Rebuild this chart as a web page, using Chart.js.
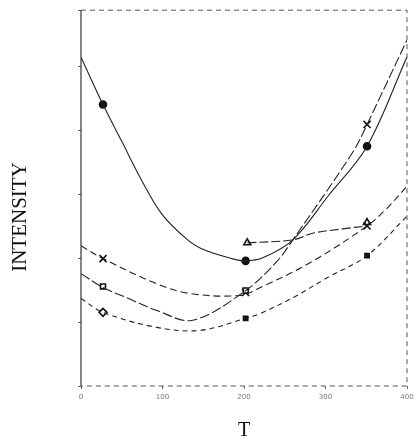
<!DOCTYPE html>
<html>
<head>
<meta charset="utf-8">
<script src="https://cdn.jsdelivr.net/npm/chart.js@4.4.1/dist/chart.umd.min.js"></script>
<style>
  html, body { margin: 0; padding: 0; background: #fff; }
</style>
</head>
<body>
<canvas id="chart" width="419" height="447"></canvas>
<script>
// x ticks
const tTicks = [0, 100, 200, 300, 400];

// curve traced through the filled circles
const circleT = [0, 27, 50, 75, 99, 128, 148, 185, 202, 223, 260, 303, 351, 400];
const circleI = [87.5, 74.9, 65.1, 54.5, 45.8, 39.4, 36.5, 33.9, 33.3, 34.1, 38.9, 50.5, 63.8, 87.6];
const circleMarkT = [27, 202, 351];
const circleMarkI = [74.9, 33.3, 63.8];

// curve through the open squares (steep rise on the right)
const squareT = [0, 27, 56, 93, 137, 202, 241, 260, 334, 351, 400];
const squareI = [29.9, 26.2, 23.5, 20.1, 17.5, 25.4, 33.3, 38.9, 62.4, 69.6, 92.1];
const squareMarkT = [27, 202];
const squareMarkI = [26.5, 25.4];

// curve through the crosses
const crossT = [0, 27, 93, 134, 195, 220, 281, 351, 376, 400];
const crossI = [37.3, 33.9, 27.2, 24.6, 24.1, 26.2, 32.8, 42.6, 47.4, 53.2];
const crossMarkT = [27, 202, 351, 351];
const crossMarkI = [33.9, 24.9, 69.6, 42.6];

// triangles (from T = 200 only)
const triT = [204, 260, 285, 321, 351];
const triI = [38.1, 38.9, 40.7, 41.8, 42.6];
const triMarkT = [204, 351];
const triMarkI = [38.1, 43.5];

// curve through the diamonds
const diaT = [0, 27, 93, 146, 202, 220, 260, 302, 351, 400];
const diaI = [23.3, 19.6, 15.6, 14.8, 18.0, 19.3, 23.5, 28.8, 34.7, 45.2];
const diaMarkT = [27];
const diaMarkI = [19.6];
const nMarkT = [202, 351];
const nMarkI = [18.0, 34.7];

function pts(xs, ys) {
    return xs.map((x, i) => ({ x: x, y: ys[i] }));
}

function curve(xs, ys, dash) {
    return {
        data: pts(xs, ys),
        showLine: true,
        borderColor: '#222',
        borderWidth: 1.1,
        borderDash: dash,
        pointRadius: 0,
        tension: 0.35,
        fill: false
    };
}

function marks(xs, ys, style, size, filled) {
    return {
        data: pts(xs, ys),
        showLine: false,
        pointStyle: style,
        pointRadius: size,
        borderColor: '#111',
        borderWidth: 1.6,
        backgroundColor: filled ? '#111' : '#fff'
    };
}

// dashed frame like the scanned plot box, plus the rotated axis name
const frame = {
    id: 'frame',
    afterDraw(chart) {
        const a = chart.chartArea;
        const c = chart.ctx;
        c.save();
        c.strokeStyle = '#333';
        c.lineWidth = 1.2;
        c.beginPath();
        c.moveTo(a.left, a.top);
        c.lineTo(a.left, a.bottom);
        c.stroke();
        c.setLineDash([5, 4]);
        c.lineWidth = 1;
        c.strokeStyle = '#555';
        c.beginPath();
        c.moveTo(a.left, a.top);
        c.lineTo(a.right, a.top);
        c.lineTo(a.right, a.bottom);
        c.lineTo(a.left, a.bottom);
        c.stroke();
        c.restore();

        c.save();
        c.translate(20, 217);
        c.rotate(-Math.PI / 2);
        c.fillStyle = '#111';
        c.font = '21px "Liberation Serif"';
        c.textAlign = 'center';
        c.textBaseline = 'middle';
        c.fillText('INTENSITY', 0, 0);
        c.restore();
    }
};

new Chart(document.getElementById('chart'), {
    type: 'scatter',
    data: {
        datasets: [
            curve(circleT, circleI, []),
            curve(squareT, squareI, [10, 3]),
            curve(crossT, crossI, [7, 4]),
            curve(triT, triI, [9, 3]),
            curve(diaT, diaI, [5, 4]),
            marks(circleMarkT, circleMarkI, 'circle', 3.5, true),
            marks(squareMarkT, squareMarkI, 'rect', 3.5, false),
            marks(crossMarkT, crossMarkI, 'crossRot', 5, false),
            marks(triMarkT, triMarkI, 'triangle', 4, false),
            marks(diaMarkT, diaMarkI, 'rectRot', 4, false),
            marks(nMarkT, nMarkI, 'rect', 3, true)
        ]
    },
    options: {
        responsive: false,
        animation: false,
        layout: { padding: { left: 0, right: 12, top: 8, bottom: 0 } },
        plugins: { legend: { display: false }, tooltip: { enabled: false } },
        scales: {
            x: {
                type: 'linear',
                min: 0,
                max: 400,
                afterBuildTicks(scale) {
                    scale.ticks = tTicks.map(v => ({ value: v }));
                },
                afterFit(scale) { scale.height = 61; },
                border: { display: false },
                grid: { drawOnChartArea: false, tickLength: 3, color: '#666' },
                ticks: { color: '#777', font: { family: 'DejaVu Sans', size: 7 }, padding: 4, maxRotation: 0 },
                title: {
                    display: true,
                    text: 'T',
                    color: '#111',
                    font: { family: 'Liberation Serif', size: 20 },
                    padding: { top: 22 }
                }
            },
            y: {
                min: 0,
                max: 100,
                afterFit(scale) { scale.width = 81; },
                border: { display: false },
                grid: { drawOnChartArea: false, tickLength: 3, color: '#666' },
                ticks: { stepSize: 17, callback: () => '' },
                title: { display: false }
            }
        }
    },
    plugins: [frame]
});
</script>
</body>
</html>
